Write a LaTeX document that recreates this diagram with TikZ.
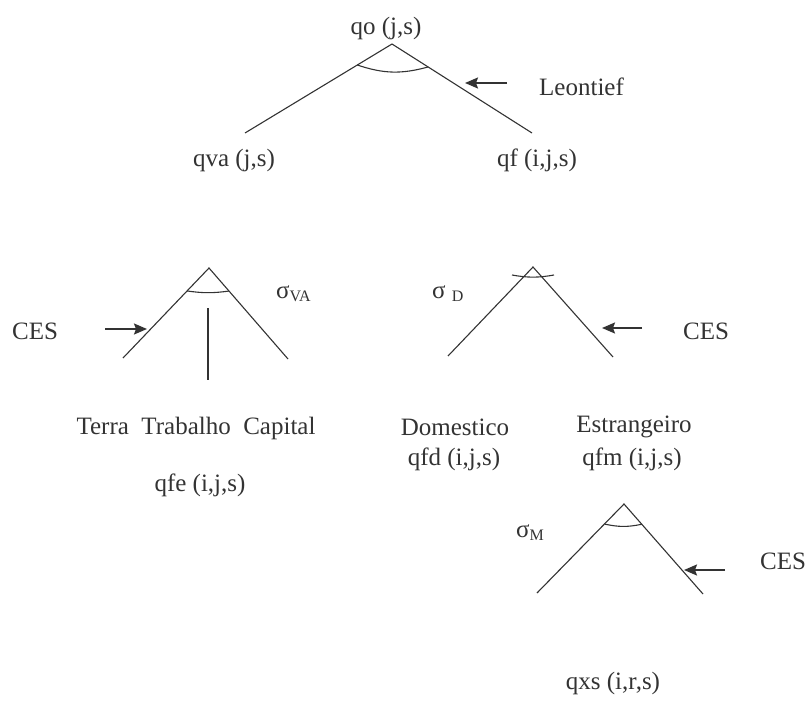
\documentclass[tikz,border=0pt]{standalone}
\usepackage{fontspec}
\setmainfont{Liberation Serif}
\usepackage{tikz}
\usetikzlibrary{arrows.meta, calc}
\newcommand{\sigsub}[1]{\raisebox{-3pt}{\fontsize{16}{16}\selectfont #1}}

\begin{document}
\begin{tikzpicture}[x=1pt, y=-1pt,
        lbl/.style={inner sep=0pt, font=\fontsize{25}{30}\selectfont, text=black!80},
        leg/.style={line width=1.1pt, black!80},
        ang/.style={line width=1.1pt, black!80},
        arr/.style={-{Stealth[length=13pt, width=11pt, inset=2pt]}, line width=1.8pt, black!80},
    ]
        \useasboundingbox (0,0) rectangle (806,704);
        % tree apexes and leg ends
        \coordinate (top) at (392,44);  \coordinate (top-l) at (245,133); \coordinate (top-r) at (532,133);
        \coordinate (va)  at (209,268); \coordinate (va-l)  at (123,358); \coordinate (va-r)  at (288,359);
        \coordinate (dm)  at (533,267); \coordinate (dm-l)  at (448,356); \coordinate (dm-r)  at (613,357);
        \coordinate (xs)  at (624,504); \coordinate (xs-l)  at (537,593); \coordinate (xs-r)  at (703,594);
        \coordinate (va-s) at (208,308); \coordinate (va-e) at (208,380);
        \foreach \t in {top,va,dm,xs} { \draw[leg] (\t-l) -- (\t) -- (\t-r); }
        \draw[leg] (va-s) -- (va-e);
        % substitution angles
        \draw[ang] ($(top)!0.236!(top-l)$) to[bend right=17] ($(top)!0.258!(top-r)$);
        \draw[ang] ($(va)!0.255!(va-l)$) to[bend right=8] ($(va)!0.253!(va-r)$);
        \draw[ang] ($(dm)+(-21,8)$) to[bend right=10] ($(dm)+(21,8)$);
        \draw[ang] ($(xs)!0.225!(xs-l)$) to[bend right=12] ($(xs)!0.225!(xs-r)$);
        % labels
        \node[lbl] (qo)  at (386,28)  {qo (j,s)};
        \node[lbl] (qva) at (234,160) {qva (j,s)};
        \node[lbl] (qf)  at (537,160) {qf (i,j,s)};
        \node[lbl, anchor=west] (leo) at (539,87) {Leontief};
        \node[lbl] (ces1) at (35,331)  {CES};
        \node[lbl, anchor=west] (sva) at (276,294) {σ\sigsub{VA}};
        \node[lbl] (fac) at (196,428) {Terra\ \ Trabalho\ \ Capital};
        \node[lbl] (qfe) at (200,485) {qfe (i,j,s)};
        \node[lbl, anchor=west] (sd) at (432,294) {σ\ \sigsub{D}};
        \node[lbl] (ces2) at (706,331) {CES};
        \node[lbl] (dom) at (455,427) {Domestico};
        \node[lbl] (qfd) at (454,459) {qfd (i,j,s)};
        \node[lbl] (est) at (634,427) {Estrangeiro};
        \node[lbl] (qfm) at (632,459) {qfm (i,j,s)};
        \node[lbl, anchor=west] (sm) at (516,533) {σ\sigsub{M}};
        \node[lbl] (ces3) at (783,561) {CES};
        \node[lbl] (qxs) at (613,683) {qxs (i,r,s)};
        % pointers
        \coordinate (leo-a) at (507,83);  \coordinate (leo-b) at (465,83);
        \coordinate (ces1-a) at (105,329); \coordinate (ces1-b) at (147,329);
        \coordinate (ces2-a) at (642,328); \coordinate (ces2-b) at (602,328);
        \coordinate (ces3-a) at (725,570); \coordinate (ces3-b) at (684,570);
        \foreach \p in {leo,ces1,ces2,ces3} { \draw[arr] (\p-a) -- (\p-b); }
    \end{tikzpicture}
\end{document}
